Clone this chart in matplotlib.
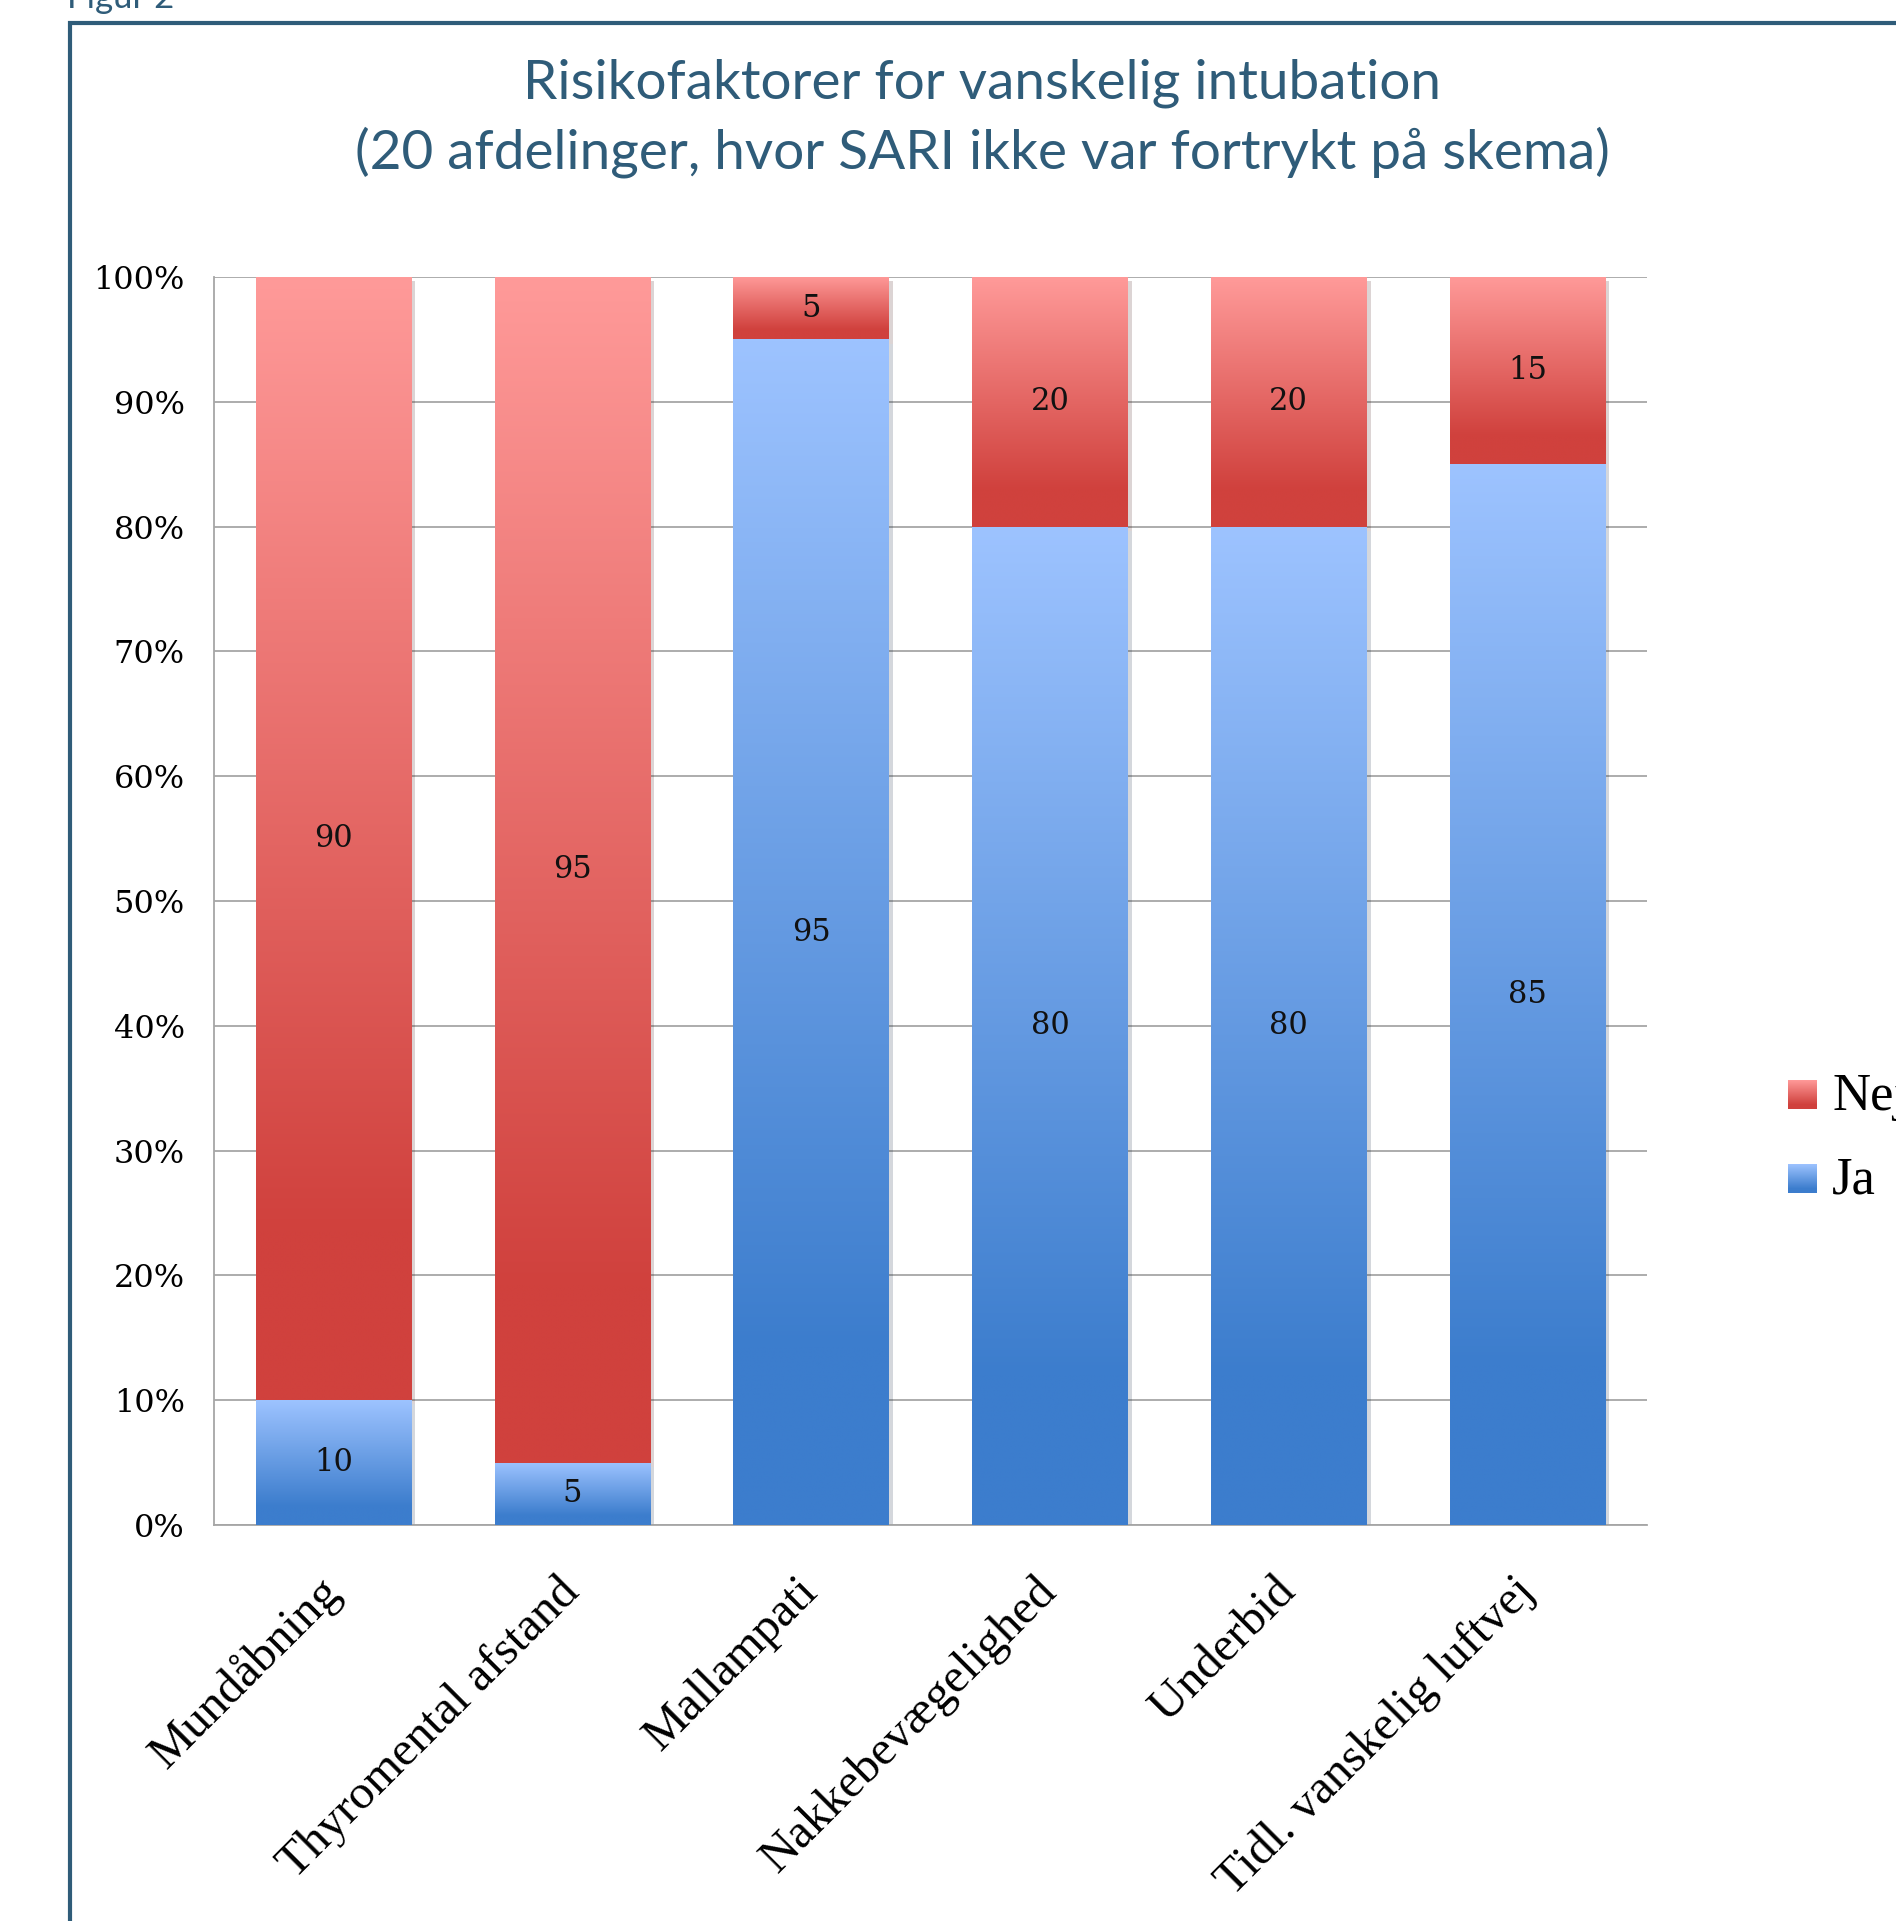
import numpy as np
import matplotlib.pyplot as plt
import matplotlib.patheffects as pe
from matplotlib.colors import to_rgb
from matplotlib.patches import Rectangle

# ------------------------------------------------------------
# Data
# ------------------------------------------------------------
categories = [
    "Mundåbning",
    "Thyromental afstand",
    "Mallampati",
    "Nakkebevægelighed",
    "Underbid",
    "Tidl. vanskelig luftvej",
]
ja = [10, 5, 95, 80, 80, 85]
nej = [90, 95, 5, 20, 20, 15]
y_ticks = list(range(0, 101, 10))
legend_labels = ["Nej", "Ja"]
title_1 = "Risikofaktorer for vanskelig intubation"
title_2 = "(20 afdelinger, hvor SARI ikke var fortrykt på skema)"

TEAL = "#2F5C79"
RED_LIGHT, RED_DARK = "#FF9A99", "#D0413D"
BLUE_LIGHT, BLUE_DARK = "#9DC3FF", "#3C7DCD"
GRID = "#A6A6A6"

W, H = 1896, 1921


def gradient(light, dark, n=256):
    c1 = np.array(to_rgb(light))
    c2 = np.array(to_rgb(dark))
    t = np.linspace(0, 1, n)
    w = np.clip(t / 0.85, 0, 1)[:, None]
    return ((1 - w) * c1 + w * c2)[:, None, :]


def fill_bars(ax, bars, light, dark):
    img = gradient(light, dark)
    for b in bars:
        x0, y0 = b.get_x(), b.get_y()
        x1, y1 = x0 + b.get_width(), y0 + b.get_height()
        im = ax.imshow(img, extent=(x0, x1, y0, y1), origin="upper",
                       aspect="auto", zorder=3, interpolation="bilinear")
        im.set_clip_path(b)


fig = plt.figure(figsize=(W / 100, H / 100), dpi=100)

# outer frame + "Figur 2"
fig.patches.append(Rectangle((69.5 / W, -0.1), 1.2, 1.1 - 22.5 / H,
                             transform=fig.transFigure, fill=False,
                             edgecolor=TEAL, linewidth=3))
fig.text(67 / W, 1 - 8 / H, "Figur 2", color=TEAL, fontsize=25,
         family="Lato", va="baseline", ha="left")

# title
fig.text(982 / W, 1 - 98 / H, title_1, color=TEAL, fontsize=39.5,
         family="Lato", ha="center", va="baseline")
fig.text(982 / W, 1 - 169 / H, title_2, color=TEAL, fontsize=39.5,
         family="Lato", ha="center", va="baseline")

ax = fig.add_axes([214 / W, 1 - 1525 / H, (1647 - 214) / W, (1525 - 277) / H])

x = np.arange(len(categories))
shadow = [pe.SimplePatchShadow(offset=(3, -3), alpha=0.18), pe.Normal()]
bars_ja = ax.bar(x, ja, width=0.65, color=BLUE_DARK, zorder=2, path_effects=shadow)
bars_nej = ax.bar(x, nej, width=0.65, bottom=ja, color=RED_DARK, zorder=2, path_effects=shadow)
fill_bars(ax, bars_ja, BLUE_LIGHT, BLUE_DARK)
fill_bars(ax, bars_nej, RED_LIGHT, RED_DARK)

for i in range(len(categories)):
    ax.text(x[i], ja[i] / 2, str(ja[i]), ha="center", va="center",
            fontsize=22, family="DejaVu Serif", zorder=5, color="#111111")
    ax.text(x[i], ja[i] + nej[i] / 2, str(nej[i]), ha="center", va="center",
            fontsize=22, family="DejaVu Serif", zorder=5, color="#111111")

ax.set_xlim(-0.5, len(categories) - 0.5)
ax.set_ylim(0, 100)
ax.set_yticks(y_ticks)
ax.set_yticklabels([f"{v}%" for v in y_ticks], family="DejaVu Serif", fontsize=23)
ax.tick_params(axis="y", length=0, pad=21)
ax.tick_params(axis="x", length=0, pad=43)
ax.set_xticks(x)
ax.set_xticklabels(categories, rotation=45, ha="right", va="center",
                   rotation_mode="anchor", family="Liberation Serif", fontsize=35)

ax.set_axisbelow(True)
ax.yaxis.grid(True, color=GRID, linewidth=1.3)
for s in ["top", "right"]:
    ax.spines[s].set_visible(False)
for s in ["left", "bottom"]:
    ax.spines[s].set_color(GRID)
    ax.spines[s].set_linewidth(1.3)

# legend (manual, drawn at the right edge as in the original)
leg_colors = [(RED_LIGHT, RED_DARK), (BLUE_LIGHT, BLUE_DARK)]
leg_y = [1080, 1164]
for label, (lt, dk), yy in zip(legend_labels, leg_colors, leg_y):
    lax = fig.add_axes([1788 / W, 1 - (yy + 29) / H, 28 / W, 29 / H])
    lax.imshow(gradient(lt, dk), aspect="auto", extent=(0, 1, 0, 1))
    lax.axis("off")
    fig.text(1832 / W, 1 - (yy + 30) / H, label, family="Liberation Serif",
             fontsize=38, va="baseline", ha="left")

plt.savefig("out.png", dpi=100)
